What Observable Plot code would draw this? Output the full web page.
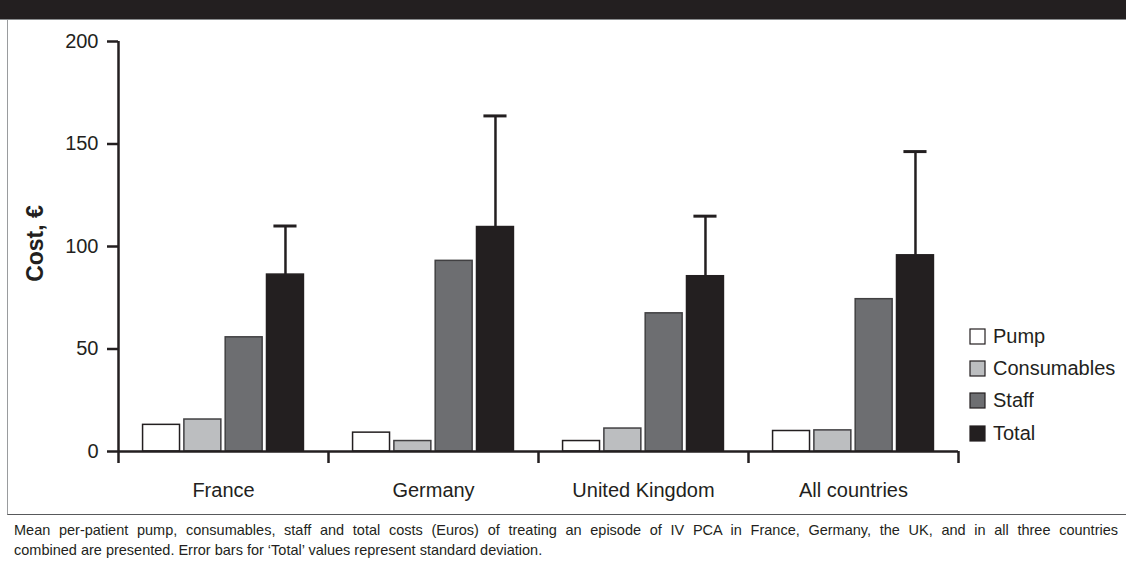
<!DOCTYPE html>
<html>
<head>
<meta charset="utf-8">
<script src="https://cdn.jsdelivr.net/npm/d3@7"></script>
<script src="https://cdn.jsdelivr.net/npm/@observablehq/plot@0.6"></script>
<style>
  html, body { margin: 0; padding: 0; background: #fff; }
  body { width: 1126px; height: 571px; position: relative; overflow: hidden; font-family: "Liberation Sans", Arial, sans-serif; color: #231f20; }
  #header { position: absolute; left: 0; top: 0; width: 1126px; height: 19px; background: #231f20; border-bottom: 1px solid #8a8c8e; }
  #panel { position: absolute; left: 7px; top: 20px; width: 1119px; height: 494px; border-left: 1.5px solid #9a9c9e; border-bottom: 1.5px solid #58595b; }
  #chart { position: absolute; left: -8.5px; top: 0; }
  #legend { position: absolute; left: 970px; top: 320px; }
  #caption { position: absolute; left: 14px; top: 520px; width: 1104px; font-size: 14.5px; line-height: 20px; color: #231f20; }
  #caption .l1 { text-align: justify; text-align-last: justify; }
  .lg-swatch { font-family: "Liberation Sans", Arial, sans-serif !important; font-size: 20px !important; color: #231f20; height: 32.4px; display: flex; align-items: center; margin: 0 !important; padding: 0 !important; }
  .lg-swatch > svg { overflow: visible; margin-right: 8px !important; }
  .lg-swatch > svg rect { stroke: #231f20; stroke-width: 1.2px; }
</style>
</head>
<body>
<div id="header"></div>
<div id="panel"><div id="chart"></div></div>
<div id="legend"></div>
<div id="caption">
  <div class="l1">Mean per-patient pump, consumables, staff and total costs (Euros) of treating an episode of IV PCA in France, Germany, the UK, and in all three countries</div>
  <div class="l2">combined are presented. Error bars for ‘Total’ values represent standard deviation.</div>
</div>
<script>
// ---- data ----
const countries = ["France", "Germany", "United Kingdom", "All countries"];
const seriesNames = ["Pump", "Consumables", "Staff", "Total"];
const pump        = [13.0, 9.2, 5.1, 10.0];
const consumables = [15.6, 5.1, 11.2, 10.3];
const staff       = [55.7, 93.0, 67.4, 74.3];
const total       = [86.3, 109.5, 85.5, 95.7];
const totalSD     = [23.7, 54.2, 29.3, 50.6];
const yTicks = [0, 50, 100, 150, 200];
const seriesColors  = ["#ffffff", "#bcbec0", "#6d6e71", "#231f20"];
const seriesStrokes = ["#231f20", "#414042", "#414042", "#231f20"];

// ---- layout of bars within a group (in group units) ----
const groupPad = 0.117, barStride = 0.1967, barWidth = 0.176;
const valuesBySeries = [pump, consumables, staff, total];

const rows = countries.flatMap((c, i) => seriesNames.map((s, j) => ({
  country: c, ci: i, series: s, sj: j, value: valuesBySeries[j][i]
})));
const totals = countries.map((c, i) => ({
  country: c, ci: i, value: total[i], sd: total[i] + totalSD[i]
}));
const center = d => d.ci + groupPad + 3 * barStride + barWidth / 2;

const ink = "#231f20";
const plot = Plot.plot({
  width: 1126,
  height: 494,
  marginLeft: 118,
  marginRight: 168,
  marginTop: 21,
  marginBottom: 63,
  x: {domain: [0, countries.length], axis: null},
  y: {domain: [0, 200], axis: null},
  color: {domain: seriesNames, range: seriesColors},
  style: {fontFamily: "'Liberation Sans', Arial, sans-serif", fontSize: "20px", color: ink, background: "transparent", overflow: "visible"},
  marks: [
    Plot.rectY(rows, {
      x1: d => d.ci + groupPad + d.sj * barStride,
      x2: d => d.ci + groupPad + d.sj * barStride + barWidth,
      y: "value",
      fill: "series",
      stroke: d => seriesStrokes[d.sj],
      strokeWidth: 1.5
    }),
    Plot.ruleX(totals, {x: center, y1: "value", y2: "sd", stroke: ink, strokeWidth: 2.5}),
    Plot.ruleY(totals, {x1: d => center(d) - 0.055, x2: d => center(d) + 0.055, y: "sd", stroke: ink, strokeWidth: 3}),
    Plot.ruleY([0], {stroke: ink, strokeWidth: 2.5}),
    Plot.ruleX([0], {y1: 0, y2: 200, stroke: ink, strokeWidth: 2.5}),
    Plot.axisY({ticks: yTicks, tickSize: 11, tickPadding: 9, stroke: ink, strokeWidth: 2.5, fill: ink, fontSize: 20, label: null}),
    Plot.axisX({ticks: d3.range(countries.length + 1), tickSize: 12, tickFormat: () => "", stroke: ink, strokeWidth: 2.5, label: null}),
    Plot.axisX({ticks: countries.map((c, i) => i + 0.5), tickFormat: v => countries[Math.floor(v)], tickSize: 0, tickPadding: 31, fill: ink, fontSize: 20, label: null}),
    Plot.text(["Cost, €"], {frameAnchor: "left", textAnchor: "middle", rotate: -90, dx: -83, dy: -3, fontWeight: "bold", fontSize: 23, fill: ink})
  ]
});
document.getElementById("chart").append(plot);

const legend = plot.legend("color", {className: "lg", columns: 1, swatchSize: 15});
document.getElementById("legend").append(legend);
</script>
</body>
</html>
